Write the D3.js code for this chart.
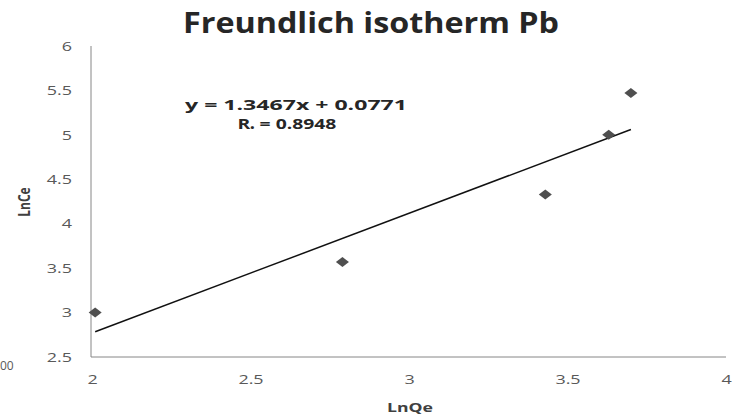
<!DOCTYPE html>
<html>
<head>
<meta charset="utf-8">
<script src="https://cdn.jsdelivr.net/npm/d3@7"></script>
<style>
body { margin: 0; background: #fff; }
text { font-family: "Open Sans", sans-serif; }
.axis path { stroke: #868686; }
.axis text { fill: #595959; font-size: 13px; }
</style>
</head>
<body>
<div id="chart"></div>
<script>
// data
var lnQe = [2.01, 2.79, 3.43, 3.63, 3.70];
var lnCe = [3.00, 3.57, 4.33, 5.00, 5.47];
var xTicks = [2, 2.5, 3, 3.5, 4];
var yTicks = [2.5, 3, 3.5, 4, 4.5, 5, 5.5, 6];
var slope = 1.3467, intercept = 0.0771, r2 = "0.8948";

var width = 732, height = 416;

var svg = d3.select("#chart").append("svg")
  .attr("width", width)
  .attr("height", height);

var x = d3.scaleLinear()
  .domain([2, 4])
  .range([92, 726]);

var y = d3.scaleLinear()
  .domain([2.5, 6])
  .range([357, 46]);

var data = lnQe.map(function(d, i){ return {x: d, y: lnCe[i]}; });

// the original picture is stretched sideways, so widen the glyphs a bit
function widen(sel, k){
  sel.each(function(){
    var l = this.getComputedTextLength();
    d3.select(this).attr("textLength", l * k).attr("lengthAdjust", "spacingAndGlyphs");
  });
}

// title
svg.append("text")
  .attr("x", 371)
  .attr("y", 33)
  .attr("text-anchor", "middle")
  .style("font-size", "28px")
  .style("font-weight", "bold")
  .style("fill", "#262626")
  .text("Freundlich isotherm Pb")
  .attr("textLength", 376)
  .attr("lengthAdjust", "spacingAndGlyphs");

// axes (no tick marks, just labels)
var gx = svg.append("g")
  .attr("class", "x axis")
  .attr("transform", "translate(0," + y(2.5) + ")")
  .call(d3.axisBottom(x).tickValues(xTicks).tickSize(0).tickPadding(18).tickFormat(d3.format("")));
gx.select(".domain").attr("d", "M" + (x(2) - 1) + ",0H" + x(4));
widen(gx.selectAll("text"), 1.38);

var gy = svg.append("g")
  .attr("class", "y axis")
  .attr("transform", "translate(" + (x(2) - 1) + ",0)")
  .call(d3.axisLeft(y).tickValues(yTicks).tickSize(0).tickPadding(19).tickFormat(d3.format("")));
gy.select(".domain").attr("d", "M0," + y(2.5) + "V" + y(6));
widen(gy.selectAll("text"), 1.38);

// axis titles
svg.append("text")
  .attr("x", 410)
  .attr("y", 412)
  .attr("text-anchor", "middle")
  .style("font-size", "13px")
  .style("font-weight", "bold")
  .style("fill", "#404040")
  .text("LnQe")
  .attr("textLength", 46)
  .attr("lengthAdjust", "spacingAndGlyphs");

svg.append("text")
  .attr("transform", "translate(30,202) rotate(-90) scale(1,1.3)")
  .attr("text-anchor", "middle")
  .style("font-size", "12px")
  .style("font-weight", "bold")
  .style("fill", "#404040")
  .text("LnCe");

// stray label at the left edge
svg.append("text")
  .attr("x", 0)
  .attr("y", 370)
  .style("font-size", "12px")
  .style("fill", "#595959")
  .text("00");

// trendline over the data range
var xMin = d3.min(lnQe), xMax = d3.max(lnQe);
svg.append("line")
  .attr("x1", x(xMin))
  .attr("y1", y(slope * xMin + intercept))
  .attr("x2", x(xMax))
  .attr("y2", y(slope * xMax + intercept))
  .style("stroke", "#111")
  .style("stroke-width", 1.5);

// diamond markers
svg.selectAll(".point")
  .data(data)
  .enter().append("path")
  .attr("class", "point")
  .attr("d", d3.symbol().type(d3.symbolDiamond2).size(64))
  .attr("transform", function(d){ return "translate(" + x(d.x) + "," + y(d.y) + ") scale(1.3,1)"; })
  .style("fill", "#4f4f4f");

// equation
var eq = svg.append("g").style("font-weight", "bold").style("font-size", "14px").style("fill", "#262626");
eq.append("text")
  .attr("x", 296)
  .attr("y", 110)
  .attr("text-anchor", "middle")
  .text("y = " + slope + "x + " + intercept)
  .attr("textLength", 222)
  .attr("lengthAdjust", "spacingAndGlyphs");
var rt = eq.append("text")
  .attr("x", 287)
  .attr("y", 129)
  .attr("text-anchor", "middle");
rt.append("tspan").text("R");
rt.append("tspan").attr("dy", 2).style("font-size", "8px").text("\u2022");
rt.append("tspan").attr("dy", -2).text(" = " + r2);
widen(rt, 1.38);
</script>
</body>
</html>
